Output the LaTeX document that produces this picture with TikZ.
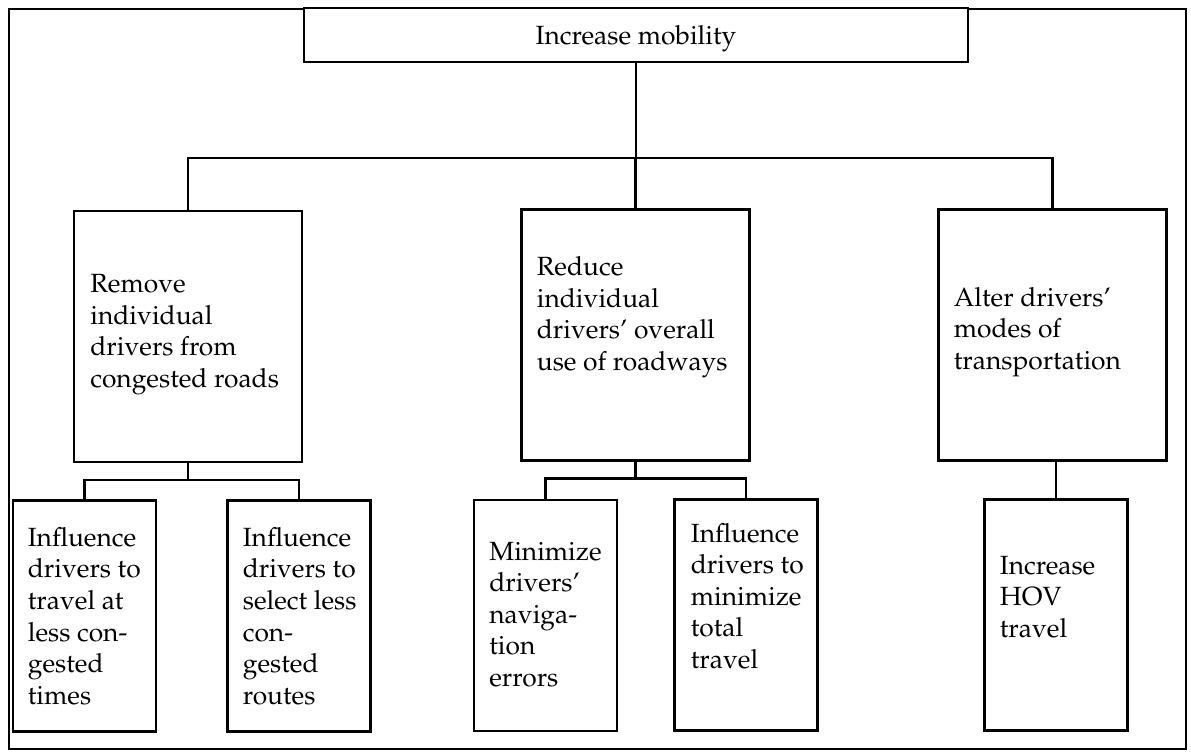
\documentclass[tikz,border=0pt]{standalone}
\usepackage[T1]{fontenc}
\usepackage{mathpazo}
\usetikzlibrary{calc}
\tikzset{
  box/.style={draw, line width=1.2pt, inner sep=0pt, outer sep=0pt},
  topbox/.style={box, minimum width=13.28cm, minimum height=1.08cm},
  midbox/.style={box, minimum width=4.56cm, minimum height=5.02cm},
  leafbox/.style={box, minimum width=2.86cm, minimum height=4.62cm},
  txt/.style={anchor=west, inner sep=0pt, align=left, font=\fontsize{15}{18}\selectfont},
  conn/.style={line width=1.2pt}
}
\begin{document}
\begin{tikzpicture}[x=0.02cm, y=-0.02cm]
\useasboundingbox (0,0) rectangle (1191,753);
\draw[line width=1.2pt] (9,9) rectangle (1186,749);

\node[topbox, fill=white] (top) at (636,35) {};
\node[txt, anchor=center] (tt) at ($(top.center)+(0,4)$) {Increase mobility};

\node[midbox] (b1) at (188,336.5) {};
\node[midbox] (b2) at (635.5,335) {};
\node[midbox] (b3) at (1052.5,335) {};

\node[txt] (t1) at ($(b1.west)+(16,-2)$) {Remove\\individual\\drivers from\\congested roads};
\node[txt] (t2) at ($(b2.west)+(15,-18)$) {Reduce\\individual\\drivers' overall\\use of roadways};
\node[txt] (t3) at ($(b3.west)+(15,-3)$) {Alter drivers'\\modes of\\transportation};

\node[leafbox] (l1) at (84.5,616) {};
\node[leafbox] (l2) at (299,616) {};
\node[leafbox] (l3) at (545.5,615.5) {};
\node[leafbox] (l4) at (746,615) {};
\node[leafbox] (l5) at (1056,615) {};

\node[txt] (u1) at ($(l1.west)+(14.5,0)$) {Influence\\drivers to\\travel at\\less con-\\gested\\times};
\node[txt] (u2) at ($(l2.west)+(15,0)$) {Influence\\drivers to\\select less\\con-\\gested\\routes};
\node[txt] (u3) at ($(l3.west)+(15,-1)$) {Minimize\\drivers'\\naviga-\\tion\\errors};
\node[txt] (u4) at ($(l4.west)+(16,-19)$) {Influence\\drivers to\\minimize\\total\\travel};
\node[txt] (u5) at ($(l5.west)+(15,-18)$) {Increase\\HOV\\travel};

% connectors level 1
\coordinate (j0) at (636,158);
\draw[conn] (top.south) -- (j0);
\draw[conn] (b1.north) |- (j0) -| (b3.north);
\draw[conn] (b2.north) -- (b2.north |- j0);

% connectors level 2
\coordinate (j1) at ($(b1.south)+(0,18)$);
\draw[conn] (b1.south) -- (j1);
\draw[conn] (l1.north) |- (j1) -| (l2.north);
\coordinate (j2) at ($(b2.south)+(0,18)$);
\draw[conn] (b2.south) -- (j2);
\draw[conn] (l3.north) |- (j2) -| (l4.north);
\draw[conn] (l5.north) -- (l5.north |- b3.south);
\end{tikzpicture}
\end{document}
